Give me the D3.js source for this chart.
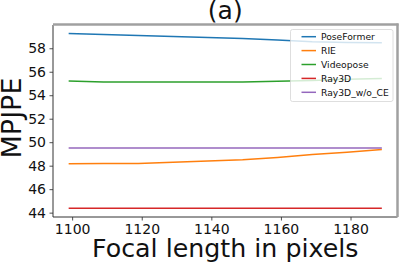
<!DOCTYPE html>
<html>
<head>
<meta charset="utf-8">
<script src="https://cdn.jsdelivr.net/npm/d3@7"></script>
<style>
  body { margin: 0; background: #fff; }
  text { font-family: 'DejaVu Sans', sans-serif; }
</style>
</head>
<body>
<div id="app"></div>
<script>
const width = 399;
const height = 266;

// focal lengths (x)
const focal = [1099, 1109, 1119, 1129, 1139, 1149, 1159, 1169, 1179, 1189];
const poseFormer = [59.25, 59.17, 59.08, 59.0, 58.92, 58.82, 58.7, 58.55, 58.5, 58.47];
const rie = [48.17, 48.18, 48.18, 48.3, 48.4, 48.5, 48.7, 48.95, 49.15, 49.37];
const videopose = [55.22, 55.12, 55.12, 55.12, 55.12, 55.12, 55.2, 55.25, 55.35, 55.42];
const ray3d = [44.37, 44.37, 44.37, 44.37, 44.37, 44.37, 44.37, 44.37, 44.37, 44.37];
const ray3dNoCE = [49.5, 49.5, 49.5, 49.5, 49.5, 49.5, 49.5, 49.5, 49.5, 49.5];
const seriesNames = ['PoseFormer', 'RIE', 'Videopose', 'Ray3D', 'Ray3D_w/o_CE'];
const colors = ['#1f77b4', '#ff7f0e', '#2ca02c', '#d62728', '#9467bd'];
const xTicks = [1100, 1120, 1140, 1160, 1180];
const yTicks = [44, 46, 48, 50, 52, 54, 56, 58];

const series = [poseFormer, rie, videopose, ray3d, ray3dNoCE].map((vals, i)=>({
  name: seriesNames[i],
  color: colors[i],
  points: vals.map((v, j)=>({x: focal[j], y: v})),
}));

const mLeft = 53, mRight = 397.5, mTop = 25, mBottom = 217;

const x = d3.scaleLinear().domain([1094.5, 1193.5]).range([mLeft, mRight]);
const y = d3.scaleLinear().domain([43.63, 59.98]).range([mBottom, mTop]);

const svg = d3.create('svg')
  .attr('width', width)
  .attr('height', height);

svg.append('rect').attr('width', width).attr('height', height).attr('fill', '#fff');

const line = d3.line().x((d)=>x(d.x)).y((d)=>y(d.y));

svg.append('g')
  .selectAll('path')
  .data(series)
  .join('path')
  .attr('d', (d)=>line(d.points))
  .attr('fill', 'none')
  .attr('stroke', (d)=>d.color)
  .attr('stroke-width', 1.5);

// axes
const xAxis = svg.append('g')
  .attr('transform', `translate(0,${mBottom})`)
  .call(d3.axisBottom(x).tickValues(xTicks).tickSize(3.5).tickPadding(3.5).tickFormat(d3.format('d')));
const yAxis = svg.append('g')
  .attr('transform', `translate(${mLeft},0)`)
  .call(d3.axisLeft(y).tickValues(yTicks).tickSize(3.5).tickPadding(3.5).tickFormat(d3.format('d')));

[xAxis, yAxis].forEach((g)=>{
  g.select('.domain').remove();
  g.selectAll('.tick line').attr('stroke', '#222').attr('stroke-width', 0.8);
  g.selectAll('.tick text')
    .attr('fill', '#111')
    .style('font-size', '14px')
    .style('font-family', "'DejaVu Sans', sans-serif");
});

// spines
svg.append('line').attr('x1', mLeft).attr('x2', mLeft).attr('y1', mTop).attr('y2', mBottom)
  .attr('stroke', '#333').attr('stroke-width', 1);
svg.append('line').attr('x1', mLeft).attr('x2', mRight).attr('y1', mBottom).attr('y2', mBottom)
  .attr('stroke', '#333').attr('stroke-width', 1);
svg.append('line').attr('x1', mLeft).attr('x2', mRight + 1).attr('y1', mTop - 0.5).attr('y2', mTop - 0.5)
  .attr('stroke', '#a0a0a0').attr('stroke-width', 2.5);
svg.append('line').attr('x1', mRight).attr('x2', mRight).attr('y1', mTop - 1.5).attr('y2', mBottom)
  .attr('stroke', '#a0a0a0').attr('stroke-width', 2.5);

// legend
const legend = svg.append('g');
legend.append('rect')
  .attr('x', 290.5).attr('y', 29.5)
  .attr('width', 102.5).attr('height', 72)
  .attr('rx', 2)
  .attr('fill', '#fff').attr('fill-opacity', 0.8)
  .attr('stroke', '#d6d6d6').attr('stroke-width', 0.8);

const entry = legend.selectAll('g.entry')
  .data(series)
  .join('g')
  .attr('class', 'entry')
  .attr('transform', (d, i)=>`translate(0,${36.7 + i * 13.9})`);
entry.append('line')
  .attr('x1', 301.5).attr('x2', 316)
  .attr('stroke', (d)=>d.color).attr('stroke-width', 1.5);
entry.append('text')
  .attr('x', 321).attr('dy', '0.35em')
  .style('font-size', '9.2px')
  .attr('fill', '#111')
  .text((d)=>d.name);

// title and labels
svg.append('text')
  .attr('x', (mLeft + mRight) / 2).attr('y', 18.5)
  .attr('text-anchor', 'middle')
  .style('font-size', '25px')
  .attr('fill', '#111')
  .text('(a)');

svg.append('text')
  .attr('x', (mLeft + mRight) / 2).attr('y', 257)
  .attr('text-anchor', 'middle')
  .style('font-size', '25.3px')
  .attr('fill', '#111')
  .text('Focal length in pixels');

svg.append('text')
  .attr('transform', `translate(20.5,${(mTop + mBottom) / 2 - 3}) rotate(-90)`)
  .attr('text-anchor', 'middle')
  .style('font-size', '27px')
  .attr('fill', '#111')
  .text('MPJPE');

document.getElementById('app').appendChild(svg.node());
</script>
</body>
</html>
